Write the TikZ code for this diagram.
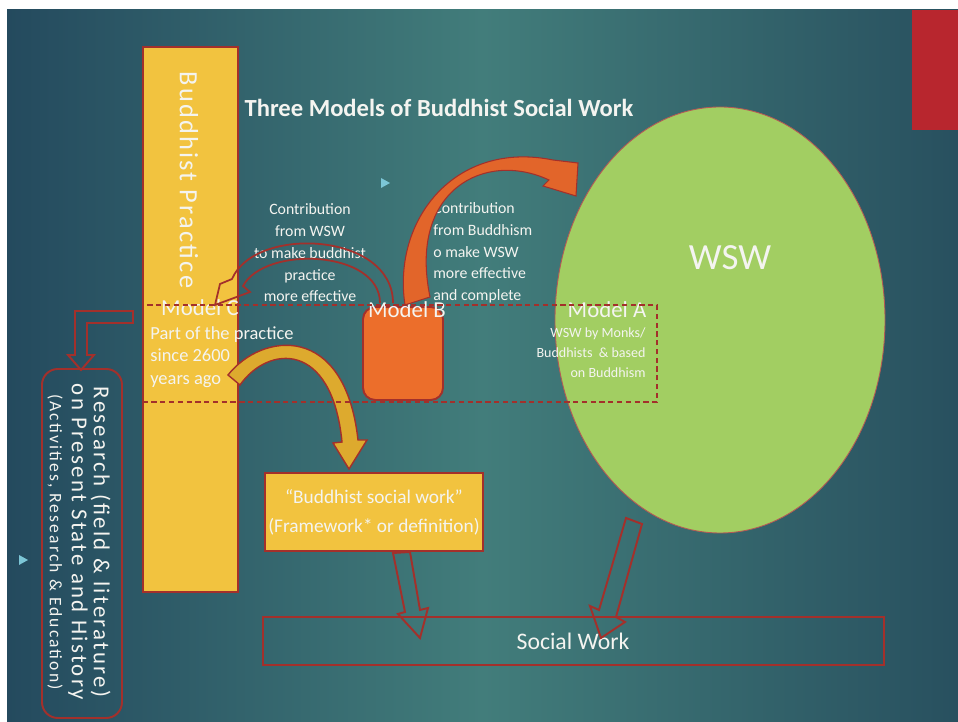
\documentclass[tikz,border=0pt]{standalone}
\usepackage{fontspec}
\setmainfont{Carlito}
\definecolor{slidedark}{HTML}{244A5E}
\definecolor{slidemid}{HTML}{427D7B}
\definecolor{slideright}{HTML}{28505F}
\definecolor{barred}{HTML}{B8262E}
\definecolor{practicey}{HTML}{F2C33F}
\definecolor{edgered}{HTML}{A3302B}
\definecolor{wswgreen}{HTML}{A2CE62}
\definecolor{modelor}{HTML}{EC6E2B}
\definecolor{arrowor}{HTML}{E2652A}
\definecolor{arrowgold}{HTML}{DDAA2E}
\definecolor{bulletc}{HTML}{7CC6D6}
\definecolor{txt}{HTML}{F4F4F0}
\begin{document}
\begin{tikzpicture}[x=0.02cm,y=-0.02cm,
    lbl/.style={text=txt,inner sep=0pt},
    box/.style={draw=edgered,line width=1.1pt}]
\useasboundingbox (0,0) rectangle (958,722);
\fill[white] (0,0) rectangle (958,722);
\shade[left color=slidedark,right color=slideright,middle color=slidemid] (7,10) rectangle (958,722);
\fill[barred] (912,10) rectangle (958,130);
\fill[bulletc] (381,178)--(390,183)--(381,188)--cycle;
\fill[bulletc] (19,555)--(28,560)--(19,565)--cycle;

\draw[box,fill=practicey] (143,47) rectangle (238,592);
\draw[fill=wswgreen,draw=edgered!80,line width=0.5pt] (720,320) ellipse [x radius=165,y radius=213];
\draw[box,fill=modelor,rounded corners=7pt] (363,307) rectangle (443,400);
\draw[box,fill=practicey] (265,473) rectangle (483,551);
\draw[box] (263,617) rectangle (884,665);
\draw[box,rounded corners=9pt] (42,369) rectangle (122,718);

\node (title) at (439,108)[lbl,font=\bfseries\fontsize{14}{16}\selectfont]{Three Models of Buddhist Social Work};
\node (practice) at (189,180)[lbl,rotate=-90,font=\fontsize{15}{17}\selectfont\addfontfeatures{LetterSpace=8.5}]{Buddhist Practice};
\node (wsw) at (730,258)[lbl,font=\fontsize{21}{24}\selectfont]{WSW};
\node (modelc) at (200,308)[lbl,font=\fontsize{13}{15}\selectfont]{Model C};
\node (partof) at (150,357)[lbl,anchor=west,align=left,font=\fontsize{10.5}{12.8}\selectfont]{Part of the practice\\since 2600\\years ago};
\node (modelb) at (407,310)[lbl,font=\fontsize{13}{15}\selectfont]{Model B};
\node (modela) at (607,310)[lbl,font=\fontsize{13}{15}\selectfont]{Model A};
\node (bymonks) at (646,353)[lbl,anchor=east,align=right,font=\fontsize{8}{11.4}\selectfont]{WSW by Monks/\\Buddhists \ \& based\\on Buddhism};
\node (contribc) at (310,253)[lbl,align=center,font=\fontsize{9}{12.4}\selectfont]{Contribution\\from WSW\\to make buddhist\\practice\\more effective};
\node (contribb) at (433,253)[lbl,anchor=west,align=left,font=\fontsize{9}{12.4}\selectfont]{Contribution\\from Buddhism\\o make WSW\\more effective\\and complete};
\node (bsw) at (374,512)[lbl,align=center,font=\fontsize{11}{16.5}\selectfont]{“Buddhist social work”\\(Framework* or definition)};
\node (sw) at (573,641)[lbl,font=\fontsize{13.5}{15}\selectfont]{Social Work};
\node (research) at (79,542)[lbl,rotate=-90,align=center,font=\fontsize{13}{12.5}\selectfont\addfontfeatures{LetterSpace=10}]{Research (field \& literature)\\on Present State and History\\{\fontsize{10}{12}\selectfont\addfontfeatures{LetterSpace=12}(Activities, Research \& Education)}};

\draw[fill=arrowor,draw=edgered,line width=0.6pt] (405,305) .. controls (392,220) and (455,140) .. (553,160)--(578,163)--(576,196)--(543,186)--(549,180) .. controls (485,150) and (408,190) .. (430,297)--cycle;
\draw[edgered,line width=1pt] (393,303) .. controls (393,232) and (255,225) .. (232,279)--(220,284)--(215,305)--(250,292)--(243,286) .. controls (265,245) and (380,250) .. (380,303);
\draw[fill=arrowgold,draw=edgered,line width=0.8pt] (228,375) .. controls (262,332) and (345,322) .. (358,440)--(367,440)--(349,469)--(333,443)--(342,442) .. controls (332,340) and (268,345) .. (240,385)--cycle;
\draw[edgered,line width=1pt,dash pattern=on 3pt off 2pt] (143,305) rectangle (657,402);

\draw[box] (393,553)--(410,552)--(420,610)--(428,608)--(420,638)--(398,614)--(405,612)--cycle;
\draw[box] (626,518)--(642,524)--(616,617)--(625,622)--(601,638)--(590,606)--(599,610)--cycle;
\draw[box] (133,311)--(75,311)--(75,355)--(68,355)--(81,370)--(94,355)--(87,355)--(87,323)--(133,323)--cycle;
\end{tikzpicture}
\end{document}
